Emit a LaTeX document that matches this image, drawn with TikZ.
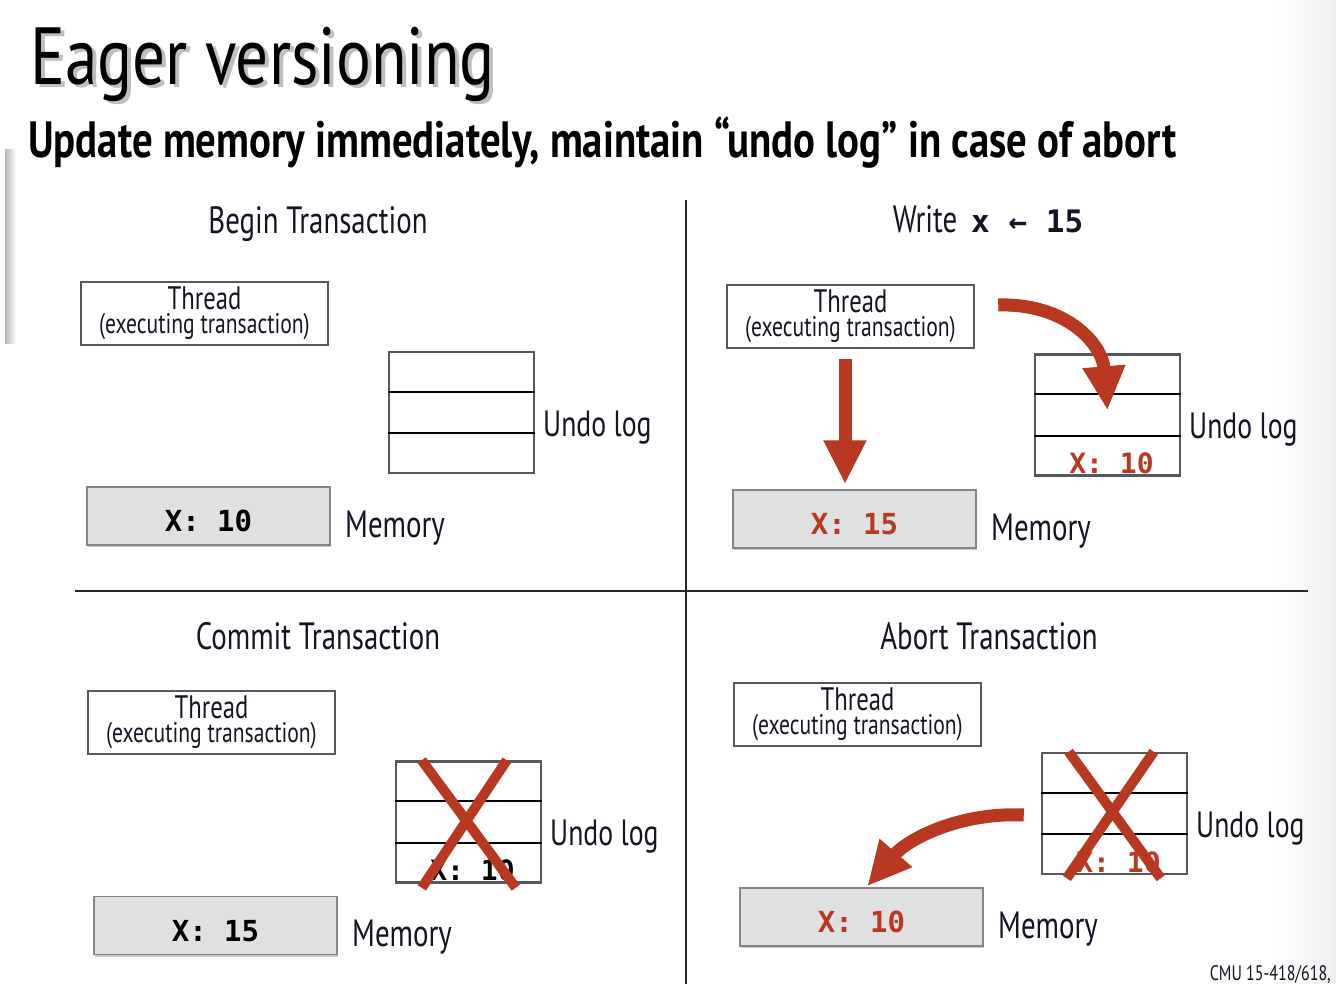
\documentclass[tikz,border=0pt]{standalone}
\usepackage{fontspec}
\setmainfont{PT Sans}
\newfontfamily\cond{PT Sans}[FakeStretch=0.76]
\newfontfamily\condt{PT Sans}[FakeStretch=0.805]
\newfontfamily\condb{PT Sans}[FakeStretch=0.80]
\newfontfamily\monob{DejaVu Sans Mono}
\usetikzlibrary{calc,arrows.meta,shadows}
\definecolor{xred}{RGB}{185,56,33}
\definecolor{boxgray}{RGB}{85,88,94}
\definecolor{memfill}{RGB}{223,224,226}
\definecolor{memborder}{RGB}{130,132,137}
\definecolor{ink}{RGB}{20,20,35}
\begin{document}
\begin{tikzpicture}[x=1pt,y=-1pt,
  heading/.style={font=\cond\fontsize{38}{38}\selectfont, text=ink, inner sep=0pt, anchor=base},
  lbl/.style={font=\cond\fontsize{38}{38}\selectfont, text=ink, inner sep=0pt, anchor=base west},
  thread/.style={draw=boxgray, line width=2.5pt, minimum width=247pt, minimum height=63pt, inner sep=0pt, align=center, text=ink, font=\cond\fontsize{28.4}{24}\selectfont},
  undolog/.style={draw=boxgray, line width=2.5pt, minimum width=145pt, minimum height=121pt, inner sep=0pt},
  mem/.style={draw=memborder, line width=1.5pt, fill=memfill, minimum width=243pt, minimum height=58pt, inner sep=0pt, text height=31pt, text depth=0pt, font=\monob\bfseries\fontsize{29}{29}\selectfont, drop shadow={shadow xshift=1pt, shadow yshift=-2pt, opacity=0.35, fill=black!60}},
  val/.style={font=\monob\bfseries\fontsize{28}{28}\selectfont, inner sep=0pt},
  fatarrow/.style={draw=xred, line width=13pt, -{Triangle[length=44pt,width=40pt]}},
  crossline/.style={draw=xred, line width=10pt},
  divider/.style={draw=black!85, line width=1.2pt}
]
\useasboundingbox (0,0) rectangle (1336,984);
% edge shading
\shade[left color=white, right color=black!7] (1276,0) rectangle (1336,984);
\shade[left color=black!28, right color=white] (5,150) rectangle (16,343);
\fill[white] (0,150) rectangle (5,343);

% title
\node[anchor=base west, inner sep=0pt, text=black!25, font=\condt\fontsize{81}{81}\selectfont] (titleshadow) at (34,88) {Eager versioning};
\node[anchor=base west, inner sep=0pt, text=black, font=\condt\fontsize{81}{81}\selectfont] (title) at (30,85) {Eager versioning};
\node[anchor=base west, inner sep=0pt, text=black, font=\condb\bfseries\fontsize{51}{51}\selectfont] (subtitle) at (28,158) {Update memory immediately, maintain “undo log” in case of abort};

% dividers
\coordinate (vtop) at (686,200);
\coordinate (vbot) at (686,984);
\coordinate (hl) at (75,591);
\coordinate (hr) at (1308,591);
\draw[divider] (vtop) -- (vbot);
\draw[divider] (hl) -- (hr);

% ---------- Panel 1: Begin ----------
\node[heading] (h1) at (318,234) {Begin Transaction};
\node[thread] (thr1) at (204.5,313.5) {{\fontsize{32.5}{32.5}\selectfont Thread}\\(executing transaction)};
\node[undolog] (ul1) at (461.5,412.5) {};
\draw[line width=2pt] ($(ul1.north west)!1/3!(ul1.south west)$) -- ($(ul1.north east)!1/3!(ul1.south east)$);
\draw[line width=2pt] ($(ul1.north west)!2/3!(ul1.south west)$) -- ($(ul1.north east)!2/3!(ul1.south east)$);
\node[lbl, font=\cond\fontsize{36.5}{36.5}\selectfont] (ull1) at (543,436) {Undo log};
\node[mem] (mem1) at (208.5,516) {X: 10};
\node[lbl] (meml1) at (345,537) {Memory};

% ---------- Panel 2: Write ----------
\node[heading] (h2) at (988,233) {Write\hspace{14pt}{\monob\bfseries\fontsize{31}{31}\selectfont x ← 15}};
\node[thread] (thr2) at (850.5,316.5) {{\fontsize{32.5}{32.5}\selectfont Thread}\\(executing transaction)};
\node[undolog] (ul2) at (1107.5,415) {};
\draw[line width=2pt] ($(ul2.north west)!1/3!(ul2.south west)$) -- ($(ul2.north east)!1/3!(ul2.south east)$);
\draw[line width=2pt] ($(ul2.north west)!2/3!(ul2.south west)$) -- ($(ul2.north east)!2/3!(ul2.south east)$);
\node[val, text=xred] (ulv2) at ($(ul2.south)+(4,-13)$) {X: 10};
\node[lbl, font=\cond\fontsize{36.5}{36.5}\selectfont] (ull2) at (1189,438) {Undo log};
\node[mem, text=xred] (mem2) at (854.5,519) {X: 15};
\node[lbl] (meml2) at (991,540) {Memory};
\draw[fatarrow, shorten <=10pt, shorten >=5pt] ($(thr2.south)+(-5.5,0)$) -- ($(mem2.north)+(-9.5,0)$);
\draw[fatarrow] ($(thr2.east)+(23,-11.5)$) .. controls (1065,303) and (1102,343) .. ($(ul2.north)+(0,57)$);

% ---------- Panel 3: Commit ----------
\node[heading] (h3) at (318,649) {Commit Transaction};
\node[thread] (thr3) at (211.5,722.5) {{\fontsize{32.5}{32.5}\selectfont Thread}\\(executing transaction)};
\node[undolog] (ul3) at (468.5,822) {};
\draw[line width=2pt] ($(ul3.north west)!1/3!(ul3.south west)$) -- ($(ul3.north east)!1/3!(ul3.south east)$);
\draw[line width=2pt] ($(ul3.north west)!2/3!(ul3.south west)$) -- ($(ul3.north east)!2/3!(ul3.south east)$);
\node[val, text=black] (ulv3) at ($(ul3.south)+(4,-13)$) {X: 10};
\draw[crossline] ($(ul3.north west)+(27,0)$) -- ($(ul3.south west)+(121,4)$);
\draw[crossline] ($(ul3.north west)+(112,0)$) -- ($(ul3.south west)+(27,4)$);
\node[lbl, font=\cond\fontsize{36.5}{36.5}\selectfont] (ull3) at (550,845) {Undo log};
\node[mem] (mem3) at (215.5,925.5) {X: 15};
\node[lbl] (meml3) at (352,946) {Memory};

% ---------- Panel 4: Abort ----------
\node[heading] (h4) at (989,649) {Abort Transaction};
\node[thread] (thr4) at (857.5,714.5) {{\fontsize{32.5}{32.5}\selectfont Thread}\\(executing transaction)};
\node[undolog] (ul4) at (1114.5,813.5) {};
\draw[line width=2pt] ($(ul4.north west)!1/3!(ul4.south west)$) -- ($(ul4.north east)!1/3!(ul4.south east)$);
\draw[line width=2pt] ($(ul4.north west)!2/3!(ul4.south west)$) -- ($(ul4.north east)!2/3!(ul4.south east)$);
\node[val, text=xred] (ulv4) at ($(ul4.south)+(4,-13)$) {X: 10};
\draw[crossline] ($(ul4.north west)+(28,0)$) -- ($(ul4.south west)+(120,3)$);
\draw[crossline] ($(ul4.north west)+(113,0)$) -- ($(ul4.south west)+(26,3)$);
\node[lbl, font=\cond\fontsize{36.5}{36.5}\selectfont] (ull4) at (1196,837) {Undo log};
\node[mem, text=xred] (mem4) at (861.5,917) {X: 10};
\node[lbl] (meml4) at (998,938) {Memory};
\draw[fatarrow] ($(ul4.west)+(-17,1.5)$) .. controls (960,812) and (908,839) .. ($(mem4.north west)+(128,-1)$);

% footer
\node[anchor=base east, inner sep=0pt, text=ink, font=\cond\fontsize{21}{21}\selectfont] (footer) at (1331,980) {CMU 15-418/618,};
\end{tikzpicture}
\end{document}
